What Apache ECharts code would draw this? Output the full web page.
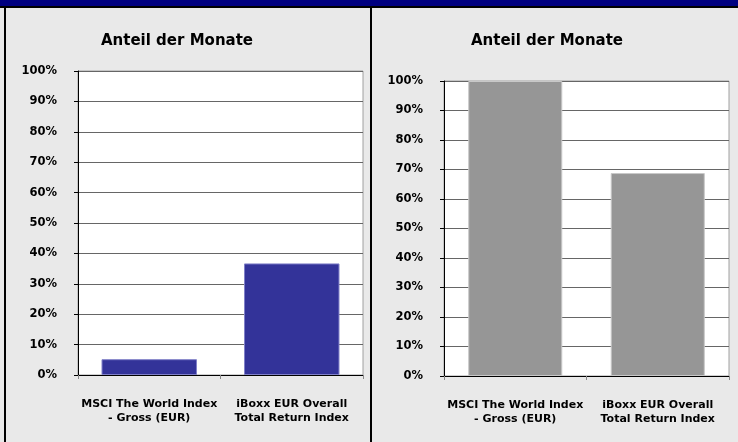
<!DOCTYPE html>
<html>
<head>
<meta charset="utf-8">
<script src="https://cdn.jsdelivr.net/npm/echarts@6/dist/echarts.min.js"></script>
<style>
html,body{margin:0;padding:0;background:#E9E9E9;}
#c{width:738px;height:442px;}
</style>
</head>
<body>
<div id="c"></div>
<script>
const categories = ['MSCI The World Index\n- Gross (EUR)', 'iBoxx EUR Overall\nTotal Return Index'];
const leftValues = [5.2, 36.7];
const rightValues = [100, 68.8];
const chartTitle = 'Anteil der Monate';
const yMin = 0, yMax = 100, yStep = 10;

const FONT = '"DejaVu Sans", Verdana, sans-serif';
const chart = echarts.init(document.getElementById('c'), null, {renderer: 'canvas'});

function yAxis(idx) {
  return {
    type: 'value', gridIndex: idx, min: yMin, max: yMax, interval: yStep,
    axisLine: {show: true, lineStyle: {color: '#000', width: 1}},
    axisTick: {show: true, length: 4, lineStyle: {color: '#000'}},
    axisLabel: {margin: 21, formatter: '{value}%', color: '#000', fontFamily: FONT, fontWeight: 'bold', fontSize: 11.5},
    splitLine: {show: true, lineStyle: {color: '#666', width: 1}}
  };
}
function xAxis(idx) {
  return {
    type: 'category', gridIndex: idx, data: categories,
    axisLine: {show: true, lineStyle: {color: '#000', width: 1}},
    axisTick: {show: true, length: 4, alignWithLabel: false, lineStyle: {color: '#888'}},
    axisLabel: {margin: 22, color: '#000', fontFamily: FONT, fontWeight: 'bold', fontSize: 11, lineHeight: 14, interval: 0}
  };
}

chart.setOption({
  animation: false,
  backgroundColor: '#E9E9E9',
  graphic: [
    {type: 'rect', shape: {x: 0, y: 0, width: 738, height: 6}, style: {fill: '#000080'}, z: -1},
    {type: 'rect', shape: {x: 0, y: 6, width: 738, height: 2}, style: {fill: '#000'}, z: -1},
    {type: 'rect', shape: {x: 4, y: 6, width: 2, height: 436}, style: {fill: '#000'}, z: -1},
    {type: 'rect', shape: {x: 370, y: 6, width: 2, height: 436}, style: {fill: '#000'}, z: -1}
  ],
  title: [
    {text: chartTitle, left: 172, top: 29, textAlign: 'center',
     textStyle: {fontFamily: FONT, fontWeight: 'bold', fontSize: 15, color: '#000'}},
    {text: chartTitle, left: 542, top: 29, textAlign: 'center',
     textStyle: {fontFamily: FONT, fontWeight: 'bold', fontSize: 15, color: '#000'}}
  ],
  grid: [
    {left: 78, top: 71, width: 285, height: 304, show: true, backgroundColor: '#fff', borderColor: '#a0a0a0', borderWidth: 1},
    {left: 444, top: 81, width: 285, height: 295, show: true, backgroundColor: '#fff', borderColor: '#a0a0a0', borderWidth: 1}
  ],
  xAxis: [xAxis(0), xAxis(1)],
  yAxis: [yAxis(0), yAxis(1)],
  series: [
    {type: 'bar', xAxisIndex: 0, yAxisIndex: 0, data: leftValues, barWidth: '67%',
     itemStyle: {color: '#333399', borderColor: '#8080c8', borderWidth: 1}},
    {type: 'bar', xAxisIndex: 1, yAxisIndex: 1, data: rightValues, barWidth: '66%',
     itemStyle: {color: '#969696', borderColor: '#c8c8c8', borderWidth: 1}}
  ]
});
</script>
</body>
</html>
